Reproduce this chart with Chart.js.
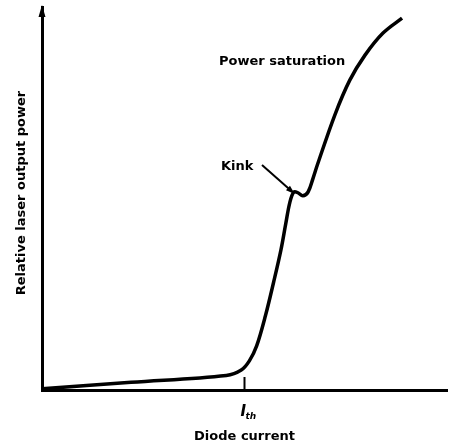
<!DOCTYPE html>
<html>
<head>
<meta charset="utf-8">
<script src="https://cdn.jsdelivr.net/npm/chart.js@4"></script>
<style>
  html, body { margin: 0; padding: 0; background: #fff; }
  #wrap { width: 450px; height: 447px; }
</style>
</head>
<body>
<div id="wrap"><canvas id="lightCurrent" width="450" height="447"></canvas></div>
<script>
// diode current (arbitrary units) and relative laser output power
const current = [0, 2.2, 4.55, 4.92, 5.12, 5.30, 5.52, 5.72, 5.90, 6.02, 6.12, 6.22, 6.32, 6.44, 6.57, 6.69, 6.80, 7.23, 7.60, 7.98, 8.42, 8.89];
const power   = [0.03, 0.20, 0.38, 0.52, 0.76, 1.15, 1.95, 2.82, 3.66, 4.35, 4.90, 5.17, 5.15, 5.07, 5.17, 5.52, 5.88, 7.18, 8.09, 8.75, 9.32, 9.71];
const thresholdCurrent = 5.0;
const kinkPoint = [6.24, 5.12];
const labels = { x: "Diode current", y: "Relative laser output power", sat: "Power saturation", kink: "Kink" };

const FONT = "bold 13px 'DejaVu Sans'";

const sketch = {
  id: "sketch",
  afterDraw(chart) {
    const ctx = chart.ctx;
    const xs = chart.scales.x, ys = chart.scales.y;
    const area = chart.chartArea;
    ctx.save();
    ctx.fillStyle = "#000";
    ctx.strokeStyle = "#000";

    // arrow head on the power axis
    ctx.beginPath();
    ctx.moveTo(area.left, area.top - 2);
    ctx.lineTo(area.left - 3.5, area.top + 10);
    ctx.lineTo(area.left + 3.5, area.top + 10);
    ctx.closePath();
    ctx.fill();

    // threshold tick
    const tx = xs.getPixelForValue(thresholdCurrent);
    ctx.lineWidth = 2;
    ctx.beginPath();
    ctx.moveTo(tx, area.bottom - 13);
    ctx.lineTo(tx, area.bottom);
    ctx.stroke();

    // I_th label
    ctx.textBaseline = "alphabetic";
    ctx.textAlign = "left";
    ctx.font = "italic bold 15px 'DejaVu Sans'";
    ctx.fillText("I", tx - 4, area.bottom + 26);
    ctx.font = "italic bold 9px 'DejaVu Sans'";
    ctx.fillText("th", tx + 1, area.bottom + 29);

    // axis titles
    ctx.font = FONT;
    ctx.textAlign = "center";
    ctx.textBaseline = "middle";
    ctx.fillText(labels.x, tx, area.bottom + 47);

    ctx.save();
    ctx.translate(22, 193);
    ctx.rotate(-Math.PI / 2);
    ctx.fillText(labels.y, 0, 0);
    ctx.restore();

    // annotations
    ctx.textAlign = "left";
    ctx.fillText(labels.sat, 219, 62);
    ctx.fillText(labels.kink, 221, 167);

    const kx = xs.getPixelForValue(kinkPoint[0]);
    const ky = ys.getPixelForValue(kinkPoint[1]);
    const sx = 262, sy = 165;
    const ang = Math.atan2(ky - sy, kx - sx);
    ctx.lineWidth = 2;
    ctx.beginPath();
    ctx.moveTo(sx, sy);
    ctx.lineTo(kx - 4 * Math.cos(ang), ky - 4 * Math.sin(ang));
    ctx.stroke();
    ctx.beginPath();
    ctx.moveTo(kx, ky);
    ctx.lineTo(kx - 9 * Math.cos(ang) + 3 * Math.sin(ang), ky - 9 * Math.sin(ang) - 3 * Math.cos(ang));
    ctx.lineTo(kx - 9 * Math.cos(ang) - 3 * Math.sin(ang), ky - 9 * Math.sin(ang) + 3 * Math.cos(ang));
    ctx.closePath();
    ctx.fill();
    ctx.restore();
  }
};

new Chart(document.getElementById("lightCurrent"), {
  type: "scatter",
  data: {
    datasets: [{
      data: current.map((c, i) => ({ x: c, y: power[i] })),
      showLine: true,
      borderColor: "#000",
      borderWidth: 3.5,
      pointRadius: 0,
      tension: 0.35,
      fill: false
    }]
  },
  options: {
    responsive: false,
    animation: false,
    layout: { padding: { left: 42, right: 3, top: 7, bottom: 57 } },
    plugins: { legend: { display: false }, tooltip: { enabled: false } },
    scales: {
      x: {
        type: "linear", min: 0, max: 10,
        grid: { display: false, drawTicks: false },
        border: { display: true, color: "#000", width: 3 },
        ticks: { display: false }
      },
      y: {
        type: "linear", min: 0, max: 10,
        grid: { display: false, drawTicks: false },
        border: { display: true, color: "#000", width: 3 },
        ticks: { display: false }
      }
    }
  },
  plugins: [sketch]
});
</script>
</body>
</html>
